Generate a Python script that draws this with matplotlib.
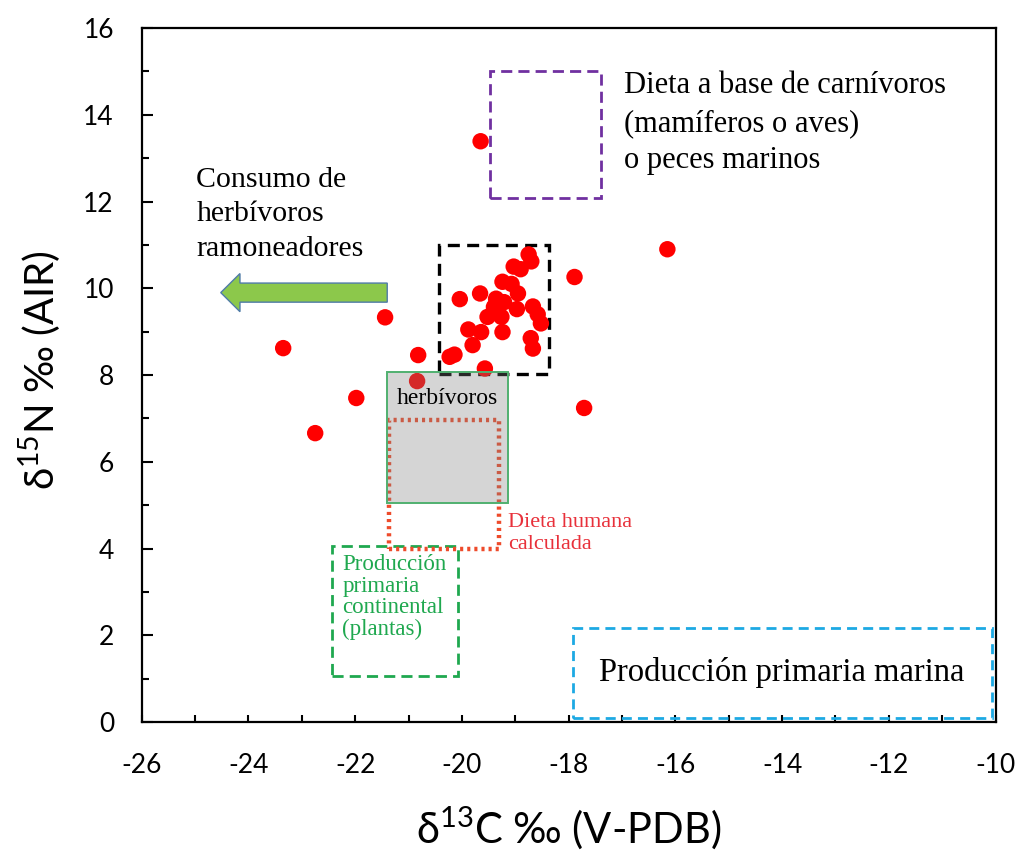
import matplotlib
matplotlib.use('Agg')
from matplotlib import pyplot as plt
from matplotlib.patches import Rectangle, FancyArrow
from matplotlib.ticker import MultipleLocator

plt.rcParams['font.family'] = ['Lato', 'DejaVu Sans']
plt.rcParams['mathtext.fontset'] = 'custom'
plt.rcParams['mathtext.rm'] = 'Lato'
plt.rcParams['axes.unicode_minus'] = False

# Isotope values of the samples
d13C = [-19.65, -16.15, -17.89, -17.71, -23.35, -22.75, -21.98, -21.44, -20.82, -20.84,
        -18.75, -18.70, -19.03, -18.90, -19.24, -19.07, -18.95, -19.66, -20.04, -19.36,
        -19.21, -19.40, -18.97, -18.67, -18.58, -18.52, -19.52, -19.26, -19.88, -19.64,
        -19.24, -18.71, -19.80, -18.67, -20.23, -20.14, -19.57]
d15N = [13.39, 10.90, 10.26, 7.24, 8.62, 6.66, 7.47, 9.33, 8.46, 7.86,
        10.78, 10.62, 10.50, 10.44, 10.15, 10.10, 9.88, 9.88, 9.75, 9.76,
        9.68, 9.57, 9.52, 9.58, 9.40, 9.19, 9.34, 9.34, 9.05, 8.99,
        8.99, 8.85, 8.69, 8.61, 8.42, 8.47, 8.15]

# Reference ranges (x0, x1, y0, y1)
carnivoros = (-19.47, -17.40, 12.07, 15.02)
humanos = (-20.43, -18.37, 8.02, 11.00)
herbivoros = (-21.41, -19.14, 5.05, 8.06)
dieta_calc = (-21.37, -19.30, 4.00, 6.96)
plantas = (-22.43, -20.08, 1.06, 4.06)
marina = (-17.91, -10.06, 0.09, 2.17)

fig = plt.figure(figsize=(10.2, 8.5), dpi=100)
ax = fig.add_axes([0.139, 0.1506, 0.837, 0.8164])


def caja(r, **kw):
	p = Rectangle((r[0], r[2]), r[1] - r[0], r[3] - r[2], **kw)
	ax.add_patch(p)
	return p


caja(carnivoros, fill=False, ec='#7030A0', lw=2.0, ls=(0, (4, 2.2)), zorder=2)
caja(humanos, fill=False, ec='black', lw=2.4, ls=(0, (3.6, 2.2)), zorder=2)
caja(plantas, fill=False, ec='#1FA84F', lw=2.0, ls=(0, (4, 2.2)), zorder=2)
caja(marina, fill=False, ec='#1DA9E3', lw=2.0, ls=(0, (3.6, 2.2)), zorder=2)
caja(dieta_calc, fill=False, ec='#EE4B2B', lw=3.2, ls=(0, (0.7, 0.9)), zorder=3)

ax.scatter(d13C, d15N, s=140, color='#FF0000', edgecolors='none', zorder=3.5)

caja(herbivoros, fc='#7F7F7F', ec='none', alpha=0.32, zorder=4)
caja(herbivoros, fill=False, ec='#50B070', lw=1.4, zorder=4.5)

# green arrow
flecha_y = 9.90
flecha_x0 = -21.40
flecha_x1 = -24.52
ax.add_patch(FancyArrow(flecha_x0, flecha_y, flecha_x1 - flecha_x0, 0, width=0.44,
                        head_width=0.88, head_length=0.36, length_includes_head=True,
                        fc='#8CC84B', ec='#4F7BA8', lw=1.0, zorder=5))

serif = 'Liberation Serif'
ax.text(-16.96, 15.0, 'Dieta a base de carnívoros\n(mamíferos o aves)\no peces marinos',
        family=serif, fontsize=22, va='top', ha='left', linespacing=1.38, zorder=6)
ax.text(-24.98, 12.8, 'Consumo de\nherbívoros\nramoneadores',
        family=serif, fontsize=21.5, va='top', ha='left', linespacing=1.42, zorder=6)
ax.text(-20.27, 7.47, 'herbívoros', family=serif, fontsize=17, ha='center', va='center', zorder=6)
ax.text(-19.14, 4.35, 'Dieta humana\ncalculada', family=serif, fontsize=16, color='#E8303A',
        ha='left', va='center', linespacing=1.2, zorder=6)
ax.text(-22.24, 2.88, 'Producción\nprimaria\ncontinental\n(plantas)', family=serif, fontsize=16.5,
        color='#1FA84F', ha='left', va='center', linespacing=1.05, zorder=6)
ax.text(-17.43, 1.13, 'Producción primaria marina', family=serif, fontsize=23.5,
        ha='left', va='center', zorder=6)

ax.set_xlim(-26, -10)
ax.set_ylim(0, 16)
ax.xaxis.set_major_locator(MultipleLocator(2))
ax.xaxis.set_minor_locator(MultipleLocator(1))
ax.yaxis.set_major_locator(MultipleLocator(2))
ax.yaxis.set_minor_locator(MultipleLocator(1))
ax.tick_params(axis='x', which='both', direction='in', length=5, width=1.5, labelsize=19, pad=22)
ax.tick_params(axis='y', which='major', direction='in', length=8, width=1.5, labelsize=19, pad=20)
ax.tick_params(axis='y', which='minor', direction='in', length=5, width=1.5)
for s in ax.spines.values():
	s.set_linewidth(1.6)

fig.text(0.558, 0.026, r'δ$^{\mathrm{13}}$C ‰ (V-PDB)', fontsize=30, ha='center', va='center')
fig.text(0.04, 0.565, r'δ$^{\mathrm{15}}$N ‰ (AIR)', fontsize=29, ha='center', va='center', rotation=90)

plt.savefig('out.png', dpi=100)
